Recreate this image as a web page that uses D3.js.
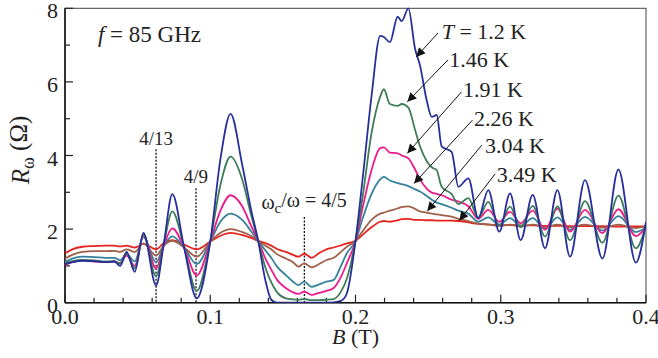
<!DOCTYPE html>
<html><head><meta charset="utf-8">
<script src="https://cdn.jsdelivr.net/npm/d3@7"></script>
<style>
body{margin:0;background:#fff;}
svg{display:block;}
</style>
</head><body>
<svg id="chart" width="658" height="358" font-family="Liberation Serif"></svg>
<script>
// Magnetic field B (T) sample positions shared by all traces
const B = [0,0.005,0.012,0.02,0.028,0.034,0.0379,0.0424,0.048,0.054,
  0.0627,0.068,0.0739,0.082,0.0907,0.1,0.107,0.114,0.122,0.128,
  0.133,0.138,0.142,0.146,0.152,0.157,0.1606,0.1648,0.1698,0.175,
  0.18,0.185,0.19,0.194,0.2,0.205,0.211,0.217,0.2195,0.2237,
  0.229,0.2318,0.2364,0.241,0.2444,0.249,0.2525,0.2559,0.2593,0.2662,
  0.2708,0.2777,0.2845,0.2914,0.299,0.3064,0.3137,0.322,0.3305,0.339,
  0.3477,0.358,0.37,0.381,0.393,0.4];

// R_omega (Ohm) for each temperature
const R_1_20 = [1.05,1.1,1.14,1.13,1.1,1.12,1.0,1.38,0.84,1.9,
  0.47,1.6,2.95,1.5,0.12,1.66,3.9,5.13,3.75,2.55,
  1.68,0.6,0.08,0,0,0,0,0,0,0,
  0,0.01,0.05,0.25,1.68,3.4,5.6,7.25,7.22,7.08,
  7.77,7.65,8.0,6.9,6.45,5.5,5.05,5.1,4.25,4.1,
  3.15,3.38,2.3,3.06,1.93,2.97,1.7,2.93,1.48,3.06,
  1.25,3.33,1.2,3.62,1.09,2.2];
const R_1_46 = [1.08,1.13,1.16,1.15,1.12,1.13,1.06,1.33,0.93,1.85,
  0.72,1.6,2.48,1.5,0.32,1.66,3.2,3.97,3.35,2.4,
  1.68,0.95,0.55,0.28,0.12,0.09,0.08,0.1,0.07,0.07,
  0.08,0.1,0.3,0.65,1.68,2.9,4.6,5.6,5.8,5.4,
  5.35,5.4,5.3,4.7,4.25,3.85,3.68,3.6,3.15,2.95,
  2.68,2.84,2.3,2.74,2.1,2.61,2.05,2.63,1.8,2.62,
  1.7,2.76,1.63,2.91,1.48,2.1];
const R_1_91 = [1.02,1.1,1.15,1.12,1.1,1.12,1.08,1.28,1.0,1.82,
  0.93,1.55,2.02,1.5,0.74,1.66,2.5,2.92,2.62,2.1,
  1.68,1.2,0.9,0.62,0.4,0.28,0.24,0.3,0.21,0.27,
  0.32,0.4,0.7,1.07,1.68,2.6,3.6,4.2,4.22,4.08,
  4.06,4.0,3.92,3.62,3.35,3.1,2.99,2.96,2.92,2.8,
  2.75,2.62,2.28,2.52,2.2,2.47,2.16,2.5,1.98,2.56,
  1.93,2.52,1.89,2.54,1.81,2.05];
const R_2_26 = [1.11,1.2,1.25,1.24,1.22,1.22,1.15,1.32,1.12,1.78,
  1.1,1.55,1.8,1.5,1.05,1.66,2.2,2.42,2.25,1.95,
  1.68,1.42,1.22,0.98,0.75,0.57,0.48,0.57,0.43,0.5,
  0.57,0.62,1.0,1.34,1.68,2.3,2.95,3.35,3.42,3.32,
  3.25,3.22,3.17,3.08,3.02,2.9,2.8,2.72,2.68,2.58,
  2.5,2.42,2.2,2.32,2.12,2.3,2.08,2.3,2.0,2.32,
  1.98,2.33,1.96,2.35,1.92,2.05];
const R_3_04 = [1.2,1.3,1.38,1.4,1.4,1.41,1.38,1.45,1.38,1.61,
  1.28,1.55,1.68,1.5,1.25,1.66,1.9,2.0,1.92,1.82,
  1.68,1.55,1.45,1.32,1.2,1.1,0.98,1.07,0.96,1.05,
  1.16,1.22,1.38,1.52,1.68,1.95,2.25,2.42,2.45,2.5,
  2.56,2.6,2.62,2.55,2.48,2.45,2.42,2.4,2.38,2.34,
  2.28,2.22,2.15,2.13,2.08,2.12,2.07,2.12,2.05,2.12,
  2.05,2.12,2.04,2.12,2.03,2.08];
const R_3_49 = [1.34,1.45,1.52,1.54,1.55,1.55,1.53,1.55,1.5,1.6,
  1.45,1.62,1.7,1.58,1.45,1.66,1.82,1.9,1.84,1.76,
  1.68,1.62,1.55,1.46,1.38,1.3,1.25,1.33,1.22,1.35,
  1.45,1.5,1.56,1.61,1.68,1.85,2.05,2.2,2.22,2.2,
  2.24,2.27,2.28,2.25,2.25,2.24,2.24,2.23,2.23,2.23,
  2.22,2.18,2.14,2.12,2.11,2.11,2.1,2.1,2.09,2.09,
  2.08,2.08,2.08,2.07,2.07,2.07];

const seriesNames = ["T = 1.2 K","1.46 K","1.91 K","2.26 K","3.04 K","3.49 K"];
const seriesColors = ["#262f9b","#3f7c58","#ec1a8c","#34819c","#a05f48","#e6231f"];

const xTicksMajor = [0,0.1,0.2,0.3,0.4];
const xTicksMinor = [0.02,0.04,0.06,0.08,0.12,0.14,0.16,0.18,0.22,0.24,0.26,0.28,0.32,0.34,0.36,0.38];
const yTicksMajor = [0,2,4,6,8];
const yTicksMinor = [1,3,5,7];

// annotation anchors in data units (B, R)
const labelPos = [[0.2593,7.17],[0.2646,6.4],[0.274,5.59],[0.2816,4.8],[0.2892,4.07],[0.2972,3.29]];
const arrowFrom = [[0.2568,7.33],[0.2637,6.6],[0.273,5.73],[0.2805,4.96],[0.2869,4.28],[0.2961,3.5]];
const arrowTo = [[0.2418,6.68],[0.2357,5.46],[0.2357,4.06],[0.2403,3.24],[0.2494,2.49],[0.2715,2.23]];
const fractionB = [0.0627,0.0902,0.1648];
const fractionTop = [4.17,3.11,2.33];

const FONT = "Liberation Serif";
const svg = d3.select("#chart");
const L=65, R=646, T=8.3, Bt=302.7;
const x = d3.scaleLinear().domain([0,0.4]).range([L,R]);
const y = d3.scaleLinear().domain([0,8]).range([Bt,T]);

svg.append("defs").append("clipPath").attr("id","clip")
  .append("rect").attr("x",L).attr("y",T-1).attr("width",R-L).attr("height",Bt-T+1);

function txt(xp, yp, size){
  return svg.append("text").attr("x",xp).attr("y",yp)
    .style("font-family",FONT).style("font-size",size+"px").attr("fill","#222");
}

// frame
svg.append("rect").attr("x",L).attr("y",T).attr("width",R-L).attr("height",Bt-T)
  .attr("fill","none").attr("stroke","#444").attr("stroke-width",1);
svg.append("line").attr("x1",L).attr("x2",L).attr("y1",T).attr("y2",Bt).attr("stroke","#111").attr("stroke-width",1.5);
svg.append("line").attr("x1",L).attr("x2",R).attr("y1",Bt).attr("y2",Bt).attr("stroke","#111").attr("stroke-width",1.5);

// ticks drawn from scales
const tickG = svg.append("g");
tickG.selectAll("line.xmin").data(xTicksMinor).join("line").attr("class","xmin")
  .attr("x1",d=>x(d)).attr("x2",d=>x(d)).attr("y1",Bt).attr("y2",Bt-5).attr("stroke","#222").attr("stroke-width",1.2);
tickG.selectAll("line.xmaj").data(xTicksMajor).join("line").attr("class","xmaj")
  .attr("x1",d=>x(d)).attr("x2",d=>x(d)).attr("y1",Bt).attr("y2",Bt-8).attr("stroke","#222").attr("stroke-width",1.2);
tickG.selectAll("line.ymin").data(yTicksMinor).join("line").attr("class","ymin")
  .attr("y1",d=>y(d)).attr("y2",d=>y(d)).attr("x1",L).attr("x2",L+5).attr("stroke","#222").attr("stroke-width",1.2);
tickG.selectAll("line.ymaj").data(yTicksMajor).join("line").attr("class","ymaj")
  .attr("y1",d=>y(d)).attr("y2",d=>y(d)).attr("x1",L).attr("x2",L+8).attr("stroke","#222").attr("stroke-width",1.2);
xTicksMajor.forEach(v=>{ txt(x(v),324,22).attr("text-anchor","middle").text(d3.format(".1f")(v)); });
yTicksMajor.forEach(v=>{ txt(L-7,y(v)+10,22).attr("text-anchor","end").text(d3.format("d")(v)); });

// dashed fraction markers
fractionB.forEach((b,i)=>{
  svg.append("line").attr("x1",x(b)).attr("x2",x(b)).attr("y1",y(fractionTop[i])).attr("y2",y(0))
    .attr("stroke","#111").attr("stroke-width",1.3).attr("stroke-dasharray","2,1.5");
});
txt(x(0.0627),y(4.29),19).attr("text-anchor","middle").text("4/13");
txt(x(0.0901),y(3.24),19).attr("text-anchor","middle").text("4/9");
const t45 = txt(x(0.1352),y(2.55),20);
t45.append("tspan").text("ω");
t45.append("tspan").attr("dy","0.3em").style("font-size","15px").text("c");
t45.append("tspan").attr("dy","-0.3em").text("/ω = 4/5");

// curves
const allR = [R_1_20,R_1_46,R_1_91,R_2_26,R_3_04,R_3_49];
const line = d3.line().x(d=>x(d[0])).y(d=>y(d[1])).curve(d3.curveMonotoneX);
const gc = svg.append("g").attr("clip-path","url(#clip)");
for (let i=allR.length-1;i>=0;i--){
  gc.append("path").datum(B.map((b,j)=>[b,allR[i][j]]))
    .attr("d",line).attr("fill","none").attr("stroke",seriesColors[i])
    .attr("stroke-width",1.8).attr("stroke-linejoin","round");
}

// arrows
const defs = svg.select("defs");
defs.append("marker").attr("id","arr").attr("viewBox","0 0 10 10").attr("refX",10).attr("refY",5)
  .attr("markerWidth",11).attr("markerHeight",9).attr("markerUnits","userSpaceOnUse").attr("orient","auto")
  .append("path").attr("d","M0,0 L10,5 L0,10 Z").attr("fill","#111");
seriesNames.forEach((n,i)=>{
  svg.append("line").attr("x1",x(arrowFrom[i][0])).attr("y1",y(arrowFrom[i][1]))
    .attr("x2",x(arrowTo[i][0])).attr("y2",y(arrowTo[i][1]))
    .attr("stroke","#111").attr("stroke-width",1).attr("marker-end","url(#arr)");
  const t = txt(x(labelPos[i][0]),y(labelPos[i][1]),22);
  if (i===0){
    t.append("tspan").style("font-style","italic").text("T");
    t.append("tspan").text(" = 1.2 K");
  } else t.text(n);
});

// f label
const tf = txt(x(0.0227),y(7.09),23);
tf.append("tspan").style("font-style","italic").text("f");
tf.append("tspan").text(" = 85 GHz");

// axis titles
const xt = txt(x(0.2),343.5,22).attr("text-anchor","middle");
xt.append("tspan").style("font-style","italic").text("B");
xt.append("tspan").text(" (T)");
const yt = txt(0,0,25).attr("transform","translate(29,150) rotate(-90)").attr("text-anchor","middle");
yt.append("tspan").style("font-style","italic").text("R");
yt.append("tspan").attr("dy","0.3em").style("font-size","18px").text("ω");
yt.append("tspan").attr("dy","-0.3em").text(" (Ω)");
</script>
</body></html>
